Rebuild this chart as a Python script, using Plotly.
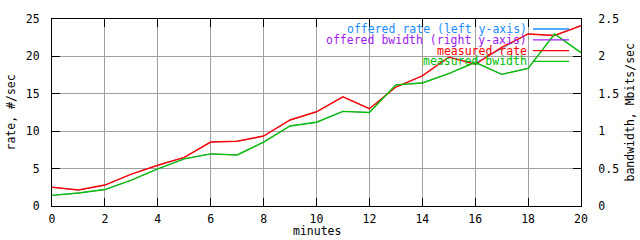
import plotly.graph_objects as go

minutes = list(range(21))
measured_rate = [2.5, 2.15, 2.8, 4.25, 5.45, 6.5, 8.55, 8.65, 9.35, 11.5, 12.6,
                 14.6, 13.0, 15.9, 17.4, 19.9, 18.95, 21.2, 23.0, 22.8, 24.1]
offered_rate = [2.5, 2.15, 2.8, 4.25, 5.45, 6.5, 8.55, 8.65, 9.35, 11.5, 12.6,
                14.6, 13.0, 15.9, 17.4, 19.9, 19.15, 21.0, 23.0, 22.8, 24.1]
measured_bwidth = [0.142, 0.173, 0.22, 0.345, 0.496, 0.63, 0.697, 0.682, 0.855, 1.07, 1.12,
                   1.265, 1.25, 1.62, 1.645, 1.77, 1.92, 1.76, 1.84, 2.3, 2.05]
offered_bwidth = list(measured_bwidth)

legend_labels = ["offered rate (left y-axis)", "offered bwidth (right y-axis)",
                 "measured rate", "measured bwidth"]
colors = ["#1a8cff", "#a020f0", "#ff0000", "#00c000"]

FONT = "DejaVu Sans Mono"
FS = 11.5

fig = go.Figure()
fig.add_trace(go.Scatter(x=minutes, y=offered_rate, mode="lines",
                         line=dict(color=colors[0], width=0.7), yaxis="y"))
fig.add_trace(go.Scatter(x=minutes, y=offered_bwidth, mode="lines",
                         line=dict(color=colors[1], width=0.7), yaxis="y2"))
fig.add_trace(go.Scatter(x=minutes, y=measured_rate, mode="lines",
                         line=dict(color=colors[2], width=1.4), yaxis="y"))
fig.add_trace(go.Scatter(x=minutes, y=measured_bwidth, mode="lines",
                         line=dict(color=colors[3], width=1.4), yaxis="y2"))

L, R, T, B = 52, 59, 13, 34
W, H = 640, 240
pw, ph = W - L - R, H - T - B

def px_x(p):
    return (p - L) / pw

def px_y(p):
    return 1 - (p - T) / ph

# opaque key box (hides gridlines under the key)
fig.add_shape(type="rect", xref="paper", yref="paper",
              x0=px_x(323), x1=1, y0=px_y(62), y1=1,
              fillcolor="white", line=dict(width=0), layer="between")

rows = [23.3, 34.5, 45.7, 56.7]
for lab, col, ry in zip(legend_labels, colors, rows):
    fig.add_annotation(xref="paper", yref="paper", x=px_x(528), y=px_y(ry),
                       text=lab, showarrow=False, xanchor="right", yanchor="middle",
                       borderpad=0,
                       font=dict(family=FONT, size=FS, color=col))
    fig.add_shape(type="line", xref="paper", yref="paper",
                  x0=px_x(533), x1=px_x(569), y0=px_y(ry), y1=px_y(ry),
                  line=dict(color=col, width=1.3), layer="above")

axis_common = dict(showline=True, linecolor="black", linewidth=1,
                   ticks="inside", ticklen=8, tickcolor="black", tickwidth=1,
                   tickfont=dict(family=FONT, size=FS, color="black"),
                   zeroline=False)

fig.update_layout(
    width=W, height=H,
    margin=dict(l=L, r=R, t=T, b=B, pad=0),
    paper_bgcolor="white", plot_bgcolor="white",
    showlegend=False,
    xaxis=dict(range=[0, 20], dtick=2, tick0=0, showgrid=True, gridcolor="#a0a0a0",
               gridwidth=1, mirror="ticks", ticklabelstandoff=2, **axis_common),
    yaxis=dict(range=[0, 25], dtick=5, tick0=0, showgrid=True, gridcolor="#a0a0a0",
               gridwidth=1, mirror=False, ticklabelstandoff=9, **axis_common),
    yaxis2=dict(range=[0, 2.5], dtick=0.5, tick0=0, overlaying="y", side="right",
                showgrid=False, ticklabelstandoff=14, **axis_common),
)

fig.add_annotation(xref="paper", yref="paper", x=0.5, y=px_y(232), text="minutes",
                   showarrow=False, xanchor="center", yanchor="middle",
                   font=dict(family=FONT, size=FS, color="black"))
fig.add_annotation(xref="paper", yref="paper", x=px_x(10), y=0.5, text="rate, #/sec",
                   showarrow=False, textangle=-90, xanchor="center", yanchor="middle",
                   font=dict(family=FONT, size=FS, color="black"))
fig.add_annotation(xref="paper", yref="paper", x=px_x(629), y=0.5,
                   text="bandwidth, Mbits/sec",
                   showarrow=False, textangle=-90, xanchor="center", yanchor="middle",
                   font=dict(family=FONT, size=FS, color="black"))

fig.write_html("out.html")
